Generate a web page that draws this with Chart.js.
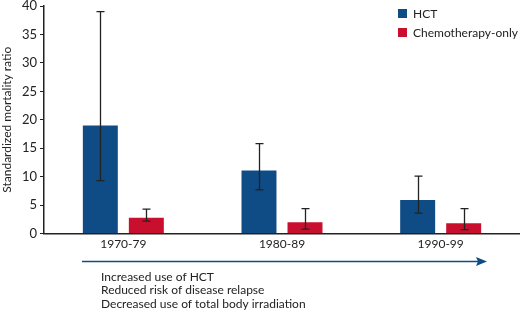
<!DOCTYPE html>
<html>
<head>
<meta charset="utf-8">
<script src="https://cdn.jsdelivr.net/npm/chart.js@4"></script>
<style>
  html, body { margin: 0; padding: 0; background: #fff; }
  #wrap { width: 520px; height: 311px; }
</style>
</head>
<body>
<div id="wrap"><canvas id="smrChart"></canvas></div>
<script>
const periods = ['1970-79', '1980-89', '1990-99'];
const hct = [19, 11.1, 5.9];
const hctLow = [9.3, 7.7, 3.6];
const hctHigh = [39, 15.8, 10.1];
const chemo = [2.8, 2.0, 1.8];
const chemoLow = [2.2, 0.8, 0.7];
const chemoHigh = [4.3, 4.4, 4.4];
const yTicks = [0, 5, 10, 15, 20, 25, 30, 35, 40];
const trendNotes = ['Increased use of HCT', 'Reduced risk of disease relapse', 'Decreased use of total body irradiation'];

const FONT = 'Lato, "Open Sans", sans-serif';
const BLUE = '#0f4c86';
const RED = '#c8102e';

Chart.defaults.font.family = FONT;
Chart.defaults.color = '#222';

// error bars + legend in plot + arrow with notes below axis
const extras = {
  id: 'extras',
  afterDatasetsDraw(chart) {
    const c = chart.ctx;
    const y = chart.scales.y;
    const ranges = [[hctLow, hctHigh], [chemoLow, chemoHigh]];
    c.save();
    c.strokeStyle = '#222';
    c.lineWidth = 1.3;
    ranges.forEach((r, di) => {
      chart.getDatasetMeta(di).data.forEach((bar, i) => {
        const x = Math.round(bar.x) + 0.5;
        const y1 = y.getPixelForValue(r[0][i]);
        const y2 = y.getPixelForValue(r[1][i]);
        c.beginPath();
        c.moveTo(x, y1); c.lineTo(x, y2);
        c.moveTo(x - 4, y1); c.lineTo(x + 4, y1);
        c.moveTo(x - 4, y2); c.lineTo(x + 4, y2);
        c.stroke();
      });
    });

    // legend
    c.font = '12px ' + FONT;
    c.textBaseline = 'middle';
    chart.data.datasets.forEach((ds, i) => {
      const ly = 14 + i * 19;
      c.fillStyle = ds.backgroundColor;
      c.fillRect(398, ly - 5, 9, 9);
      c.fillStyle = '#222';
      c.fillText(ds.label, 413, ly);
    });

    // arrow
    const ay = 261.5;
    c.strokeStyle = BLUE;
    c.fillStyle = BLUE;
    c.lineWidth = 1.5;
    c.beginPath();
    c.moveTo(82, ay); c.lineTo(480, ay);
    c.stroke();
    c.beginPath();
    c.moveTo(487, ay); c.lineTo(476, ay - 4.5); c.lineTo(478, ay); c.lineTo(476, ay + 4.5);
    c.closePath();
    c.fill();

    c.fillStyle = '#222';
    c.textAlign = 'left';
    trendNotes.forEach((t, i) => c.fillText(t, 101, 277 + i * 13.5));
    c.restore();
  }
};

new Chart(document.getElementById('smrChart'), {
  type: 'bar',
  data: {
    labels: periods,
    datasets: [
      { label: 'HCT', data: hct, backgroundColor: BLUE },
      { label: 'Chemotherapy-only', data: chemo, backgroundColor: RED }
    ]
  },
  options: {
    responsive: true,
    maintainAspectRatio: false,
    animation: false,
    events: [],
    layout: { padding: { left: 0, right: 0, top: 6, bottom: 57 } },
    datasets: { bar: { categoryPercentage: 0.58, barPercentage: 0.76 } },
    plugins: { legend: { display: false }, tooltip: { enabled: false } },
    scales: {
      x: {
        grid: { display: false, drawTicks: false },
        border: { color: '#222', width: 1.5 },
        ticks: { font: { size: 12 }, color: '#222', padding: 3 }
      },
      y: {
        min: 0, max: 40,
        afterBuildTicks: (s) => { s.ticks = yTicks.map(v => ({ value: v })); },
        afterFit: (s) => { s.width = 44; s.paddingTop = 0; },
        grid: { drawOnChartArea: false, drawTicks: true, tickLength: 4, color: '#222' },
        border: { color: '#222', width: 1.5 },
        ticks: { font: { size: 13 }, color: '#222', padding: 3 },
        title: { display: true, text: 'Standardized mortality ratio', font: { size: 12 }, color: '#222', padding: 0 }
      }
    }
  },
  plugins: [extras]
});
</script>
</body>
</html>
